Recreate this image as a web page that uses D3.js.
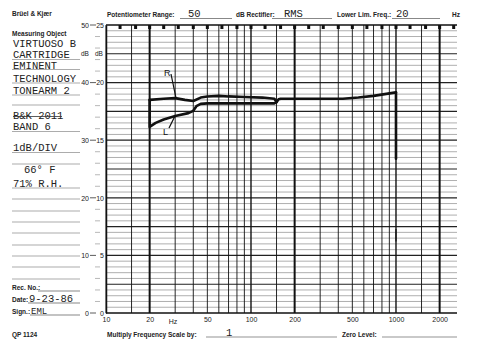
<!DOCTYPE html>
<html><head><meta charset="utf-8">
<script src="https://cdn.jsdelivr.net/npm/d3@7"></script>
<style>
body{margin:0;background:#fff;}
svg{display:block;}
.pr{font-family:"Liberation Sans",Arial,sans-serif;font-size:6.5px;font-weight:bold;fill:#222;}
.tw{font-family:"Liberation Mono","DejaVu Sans Mono",monospace;font-size:10.5px;fill:#222;}
</style></head><body>
<svg id="c" width="480" height="355"></svg>
<script>
// ---- data ----
const rFreq = [20,25,30,35,40,45,50,60,70,90,120,145,150,155,160,200,300,430,550,700,1000];
const rDb   = [37.0,37.2,37.3,37.0,36.8,37.4,37.6,37.7,37.6,37.5,37.4,37.2,36.6,37.1,37.2,37.2,37.2,37.2,37.4,37.7,38.3];
const lFreq = [20,20,22,25,30,37,40,42,45,50,100,145,150];
const lDb   = [37.0,32.3,33.0,33.6,34.2,34.7,35.1,35.9,36.3,36.4,36.4,36.4,36.6];
const dropFreq = [1000,1000];
const dropDb   = [38.3,26.8];
const freqTickLabels = [10,20,50,100,200,500,1000,2000];
const gridFreqs = [10,15,20,30,40,50,60,70,80,90,100,150,200,300,400,500,600,700,800,900,1000,1500,2000];
const thickFreqs = [20,200,2000];
const medFreqs = [100,1000];
const markerFreqs = [12.5,16,20,25,31.5,40,50,63,80,100,125,160,200,250,315,400,500,630,800,1000,1250,1600,2000,2500];
const dbOuterLabels = [0,10,20,30,40,50];
const dbInnerLabels = [0,5,10,15,20,25];
const leftTexts = ["VIRTUOSO B","CARTRIDGE","EMINENT","TECHNOLOGY","TONEARM 2","B&K 2011","BAND 6","1dB/DIV","66° F","71% R.H."];

// ---- layout ----
const svg = d3.select("#c");
const x = d3.scaleLog().domain([10,2635]).range([106,457]);
const y = d3.scaleLinear().domain([0,50]).range([313,25]);
const X0 = 106, X1 = 457;

// horizontal grid
const g = svg.append("g");
g.selectAll("line.h").data(d3.range(1,50)).join("line")
  .attr("x1",X0).attr("x2",X1).attr("y1",d=>y(d)).attr("y2",d=>y(d))
  .attr("stroke",d=>d%5===0?"#222":"#9a9a9a")
  .attr("stroke-width",d=>d%10===0?1.3:(d%5===0?1.1:0.8));
// vertical grid
g.selectAll("line.v").data(gridFreqs).join("line")
  .attr("x1",d=>x(d)).attr("x2",d=>x(d)).attr("y1",y(50)).attr("y2",y(0))
  .attr("stroke","#111")
  .attr("stroke-width",d=>thickFreqs.includes(d)?2:(medFreqs.includes(d)?1.4:0.9));
// top and bottom borders
g.append("line").attr("x1",X0).attr("x2",X1).attr("y1",y(50)).attr("y2",y(50)).attr("stroke","#111").attr("stroke-width",1.5);
g.append("line").attr("x1",X0).attr("x2",X1).attr("y1",y(0)).attr("y2",y(0)).attr("stroke","#111").attr("stroke-width",1.5);
// top markers
g.selectAll("rect.m").data(markerFreqs).join("rect")
  .attr("x",d=>x(d)-1.5).attr("y",y(50)).attr("width",3).attr("height",4).attr("fill","#111");

// left axis
const inner = svg.append("g").attr("transform",`translate(${X0},0)`)
  .call(d3.axisLeft(y).tickValues(dbOuterLabels).tickSize(0).tickPadding(2).tickFormat(d=>d/2));
inner.select(".domain").attr("stroke","#111").attr("stroke-width",1.5);
inner.selectAll("text").attr("class","pr").style("font-weight","normal").style("font-size","7px");
const outer = svg.append("g").attr("transform",`translate(90,0)`)
  .call(d3.axisLeft(y).tickValues(dbOuterLabels).tickSize(0).tickPadding(1).tickFormat(d3.format("d")));
outer.select(".domain").remove();
outer.selectAll("text").attr("class","pr").style("font-weight","normal").style("font-size","7px");
svg.selectAll("line.dash").data(dbOuterLabels).join("line")
  .attr("x1",90).attr("x2",96).attr("y1",d=>y(d)).attr("y2",d=>y(d)).attr("stroke","#333").attr("stroke-width",0.8);
svg.selectAll("line.mt").data(d3.range(2,50,2).filter(d=>d%10!==0)).join("line")
  .attr("x1",95).attr("x2",100).attr("y1",d=>y(d)).attr("y2",d=>y(d)).attr("stroke","#999").attr("stroke-width",0.7);
svg.append("text").attr("class","pr").attr("x",81).attr("y",y(45)+2).text("dB").style("font-weight","normal");
svg.append("text").attr("class","pr").attr("x",95).attr("y",y(45)+2).text("dB").style("font-weight","normal");

// bottom axis
const bx = svg.append("g").attr("transform",`translate(0,${y(0)})`)
  .call(d3.axisBottom(x).tickValues(freqTickLabels).tickSize(0).tickPadding(4).tickFormat(d3.format("d")));
bx.select(".domain").remove();
bx.selectAll("text").attr("class","pr").style("font-weight","normal").style("font-size","7px");
svg.append("text").attr("class","pr").attr("x",173).attr("y",324).attr("text-anchor","middle").style("font-weight","normal").style("font-size","7px").text("Hz");

// traces
const line = d3.line().x(d=>x(d[0])).y(d=>y(d[1]));
const tr = svg.append("g").attr("fill","none").attr("stroke","#111").attr("stroke-width",2.6).attr("stroke-linejoin","round").attr("stroke-linecap","round");
tr.append("path").attr("d",line(d3.zip(rFreq,rDb)));
tr.append("path").attr("d",line(d3.zip(lFreq,lDb)));
tr.append("path").attr("d",line(d3.zip(dropFreq,dropDb)));
tr.append("path").attr("stroke-width",1.2).attr("d",line([[1000,14.5],[1000,12.5]]));
// R / L annotations
svg.append("text").attr("x",164).attr("y",76).attr("font-family","Liberation Sans").attr("font-size",9).attr("fill","#111").text("R");
svg.append("line").attr("x1",171).attr("y1",74).attr("x2",176).attr("y2",y(37.3)).attr("stroke","#111").attr("stroke-width",1.2);
svg.append("text").attr("x",163).attr("y",135).attr("font-family","Liberation Sans").attr("font-size",9).attr("fill","#111").text("L");
svg.append("line").attr("x1",169).attr("y1",128).attr("x2",175).attr("y2",y(34.2)).attr("stroke","#111").attr("stroke-width",1.2);

// header
svg.append("text").attr("class","pr").attr("x",12).attr("y",16).text("Brüel & Kjær");
svg.append("text").attr("class","pr").attr("x",107).attr("y",17).text("Potentiometer Range:");
svg.append("text").attr("class","pr").attr("x",236).attr("y",17).text("dB Rectifier:");
svg.append("text").attr("class","pr").attr("x",337).attr("y",17).text("Lower Lim. Freq.:");
svg.append("text").attr("class","pr").attr("x",452).attr("y",17).text("Hz");
[[180,232],[272,332],[392,440]].forEach(s=>svg.append("line").attr("x1",s[0]).attr("x2",s[1]).attr("y1",18.5).attr("y2",18.5).attr("stroke","#555").attr("stroke-width",0.7));
svg.append("text").attr("class","tw").attr("x",188).attr("y",17).text("50");
svg.append("text").attr("class","tw").attr("x",284).attr("y",17).text("RMS");
svg.append("text").attr("class","tw").attr("x",396).attr("y",17).text("20");

// left panel
svg.append("text").attr("class","pr").attr("x",12).attr("y",36).text("Measuring Object");
const leftY = [47,58,68.5,81.5,94,119,130,150.5,173,186.5];
leftTexts.forEach((t,i)=>svg.append("text").attr("class","tw").attr("x",i===8?24:13).attr("y",leftY[i]).text(t));
const panelLines = [59.5,69.5,83,95,105,131.5,152.5,164,188,199,211,222,233,245,256,267,279];
svg.selectAll("line.pl").data(panelLines).join("line")
  .attr("x1",12).attr("x2",80).attr("y1",d=>d).attr("y2",d=>d).attr("stroke","#888").attr("stroke-width",0.7);
svg.append("line").attr("x1",13).attr("x2",62).attr("y1",116.5).attr("y2",116.5).attr("stroke","#333").attr("stroke-width",0.8);
svg.append("text").attr("class","pr").attr("x",12).attr("y",290).text("Rec. No.:");
svg.append("text").attr("class","pr").attr("x",12).attr("y",302).text("Date:");
svg.append("text").attr("class","pr").attr("x",12).attr("y",314).text("Sign.:");
[[38,80,291],[28,80,303],[30,80,315]].forEach(s=>svg.append("line").attr("x1",s[0]).attr("x2",s[1]).attr("y1",s[2]).attr("y2",s[2]).attr("stroke","#555").attr("stroke-width",0.7));
svg.append("text").attr("class","tw").attr("x",29).attr("y",302).text("9-23-86");
svg.append("text").attr("class","tw").attr("x",31).attr("y",314).style("font-size","9px").text("EML");
svg.append("text").attr("class","pr").attr("x",12).attr("y",337).text("QP 1124");

// bottom
svg.append("text").attr("class","pr").attr("x",107).attr("y",337).text("Multiply Frequency Scale by:");
svg.append("line").attr("x1",206).attr("x2",337).attr("y1",337).attr("y2",337).attr("stroke","#666").attr("stroke-width",0.7);
svg.append("text").attr("class","tw").attr("x",226).attr("y",336).text("1");
svg.append("text").attr("class","pr").attr("x",342).attr("y",337).text("Zero Level:");
svg.append("line").attr("x1",382).attr("x2",457).attr("y1",337).attr("y2",337).attr("stroke","#666").attr("stroke-width",0.7);
</script>
</body></html>
